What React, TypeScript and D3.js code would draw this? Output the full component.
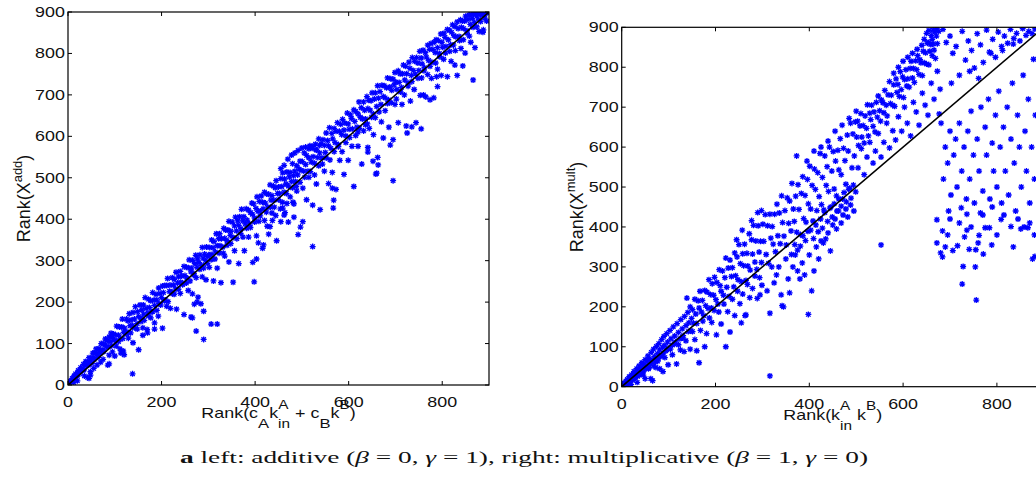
import React from "react";
import * as d3 from "d3";

// axis ticks shared by both panels
const xTicks = [0, 200, 400, 600, 800];
const yTicks = [0, 100, 200, 300, 400, 500, 600, 700, 800, 900];
const rankDomain = [0, 900];
const diagonal = [0, 900];

// left panel: Rank(c_A k_in^A + c_B k^B) vs Rank(X^add)
const additivePoints: [number, number][] = [
  // band 0-100
  [1,3],[3,3],[4,9],[6,9],[8,9],[9,16],[11,15],[13,22],[15,17],[16,27],[18,24],[20,21],[22,35],[24,32],[25,28],[27,42],[29,39],[31,36],[33,50],[34,36],[36,48],[38,57],[40,47],[42,56],[44,48],[45,66],[47,56],[49,65],[51,52],[53,77],[55,66],[56,62],[58,78],[60,87],[62,75],[64,67],[66,88],[67,84],[69,77],[71,100],[73,85],[75,100],[77,81],[79,97],[80,111],[82,92],[84,107],[86,92],[88,116],[90,105],[92,125],[93,95],[95,115],[97,123],[99,108],
  [12,6],[20,10],[35,22],[42,18],[45,16],[48,24],[48,32],[55,40],[62,48],[70,55],[75,62],[85,48],[88,51],[88,72],[95,80],[100,70],[113,77],[118,82],[138,27],
  // band 100-300
  [101,121],[103,107],[104,142],[108,120],[110,140],[112,111],[115,140],[116,159],[119,127],[121,137],[125,159],[126,128],[128,155],[131,172],[133,143],[135,157],[138,144],[139,175],[142,159],[144,189],[148,148],[149,177],[151,165],[154,193],[156,161],[158,181],[161,193],[162,171],[165,211],[167,185],[171,174],[172,207],[174,187],[177,203],[179,177],[181,223],[184,205],[185,192],[188,219],[190,205],[194,234],[195,196],[197,221],[200,211],[202,239],[204,223],[207,240],[208,205],[211,240],[213,257],[217,226],[218,241],[220,225],[223,259],[225,241],[227,255],[230,232],[231,272],[234,246],[236,261],[240,274],[241,248],[243,263],[246,245],[248,286],[250,264],[253,284],[254,258],[257,283],[259,302],[263,273],[264,282],[266,301],[269,269],[271,293],[273,313],[276,284],[277,304],[280,295],[282,314],[286,289],[287,332],[289,306],[292,316],[294,300],[296,333],[299,310],
  [103,94],[108,105],[111,87],[117,112],[120,73],[126,123],[129,113],[134,126],[139,102],[142,138],[148,135],[151,85],[156,153],[160,138],[163,156],[169,134],[172,167],[177,162],[181,177],[185,135],[190,180],[193,166],[198,193],[202,137],[206,203],[211,190],[214,201],[219,185],[224,220],[227,219],[232,183],[236,231],[240,221],[245,242],[248,170],[253,246],[257,228],[261,251],[266,220],[269,265],[274,259],[278,212],[282,279],[287,261],[290,282],[295,254],[298,293],
  [266,162],[270,195],[274,130],[290,110],[290,178],[306,147],[319,147],[263,164],[276,200],[284,196],[160,120],[170,126],[185,150],
  // band 300-500
  [301,314],[303,332],[306,315],[307,350],[310,331],[312,346],[315,321],[317,365],[319,336],[322,353],[324,365],[325,336],[328,353],[331,333],[333,378],[335,354],[337,374],[340,348],[342,374],[344,395],[347,361],[348,371],[351,393],[353,356],[356,384],[358,405],[360,372],[363,396],[365,385],[367,406],[370,377],[371,424],[374,396],[376,406],[379,389],[381,425],[383,398],[386,422],[388,389],[390,416],[393,439],[394,412],[397,437],[399,403],[402,426],[404,454],[406,419],[409,443],[411,420],[413,456],[416,441],[417,425],[420,465],[422,439],[425,461],[427,429],[429,460],[432,483],[434,446],[436,457],[439,480],[440,446],[443,476],[445,493],[448,462],[450,478],[452,462],[455,498],[457,479],[459,512],[462,465],[463,497],[466,485],[468,514],[471,480],[473,502],[475,513],[478,491],[480,534],[482,505],[485,516],[486,491],[489,529],[491,507],[494,521],[496,540],[498,518],
  [455,522],[462,530],[470,545],[478,555],[485,560],[492,566],[500,572],[508,574],[515,570],[522,576],[530,568],[538,578],
  [302,284],[306,302],[311,251],[314,304],[319,282],[323,318],[327,247],[332,318],[335,311],[340,337],[344,297],[348,341],[353,248],[356,324],[361,353],[365,293],[369,366],[374,357],[377,324],[382,378],[386,357],[390,380],[395,296],[399,393],[403,360],[408,395],[411,408],[416,330],[420,397],[424,417],[429,364],[433,429],[437,397],[441,429],[446,348],[450,447],[454,425],[458,441],[462,410],[467,462],[471,393],[475,454],[480,476],[483,437],[488,479],[492,363],[496,489],
  [398,249],[403,304],[407,343],[418,338],[432,382],[455,394],[464,416],[483,405],[497,381],[502,394],[523,334],[426,383],[444,409],[459,427],[481,441],[489,468],[436,415],[468,438],
  // band 500-700
  [501,539],[504,516],[505,560],[508,532],[510,554],[513,516],[515,548],[517,577],[520,538],[522,571],[524,551],[527,535],[529,581],[531,567],[534,549],[536,594],[538,560],[541,582],[543,548],[545,592],[548,578],[550,561],[552,608],[555,590],[557,577],[559,621],[562,571],[564,607],[566,594],[569,619],[571,585],[573,612],[576,633],[578,580],[580,612],[583,629],[585,604],[587,641],[590,615],[592,632],[594,601],[597,656],[599,630],[601,617],[604,652],[606,643],[608,618],[611,664],[613,636],[615,660],[618,622],[620,654],[622,683],[625,646],[627,669],[629,642],[632,683],[634,663],[636,642],[639,696],[641,667],[643,687],[646,663],[648,686],[650,705],[653,654],[655,690],[657,705],[660,672],[662,722],[664,692],[667,708],[669,677],[671,723],[674,696],[676,722],[678,693],[681,717],[683,741],[685,688],[688,719],[690,739],[692,711],[695,738],[697,724],[699,754],
  [502,475],[506,501],[510,447],[515,501],[518,515],[523,434],[527,507],[531,485],[536,529],[539,423],[544,533],[548,516],[552,548],[557,486],[560,543],[565,513],[569,563],[573,472],[578,575],[581,542],[586,563],[590,508],[594,585],[599,542],[602,597],[607,576],[611,479],[615,602],[620,576],[623,619],[628,533],[632,613],[636,628],[641,573],[644,619],[649,646],[653,604],[657,645],[662,549],[665,659],[670,635],[674,596],[678,662],[683,679],[686,622],[691,681],[695,592],[699,677],
  [565,475],[567,427],[568,446],[641,562],[652,540],[658,509],[660,511],[663,531],[689,579],[695,493],[620,610],[640,630],
  // band 700-900
  [701,731],[703,713],[706,758],[708,730],[710,751],[713,718],[715,751],[717,772],[720,736],[722,769],[724,751],[727,729],[729,779],[731,764],[734,747],[736,790],[738,759],[741,781],[743,750],[745,790],[748,777],[750,759],[752,805],[755,789],[757,775],[759,808],[762,766],[764,802],[766,791],[769,820],[771,783],[773,810],[776,824],[778,779],[780,810],[783,827],[785,802],[787,833],[790,814],[792,831],[794,800],[797,847],[799,827],[801,815],[804,849],[806,839],[808,817],[811,858],[813,833],[815,856],[818,821],[820,851],[822,869],[825,843],[827,865],[829,840],[832,876],[834,860],[836,841],[839,881],[841,863],[843,878],[846,860],[848,878],[850,890],[853,855],[855,882],[857,893],[860,870],[862,894],[864,884],[867,895],[869,875],[871,896],[874,890],[876,898],[878,882],[881,896],[883,895],[885,893],[888,898],[890,893],[892,898],[895,899],[897,899],[899,900],
  [702,690],[706,633],[711,707],[714,677],[719,700],[723,625],[727,721],[732,685],[735,732],[740,713],[744,633],[748,740],[753,699],[756,741],[761,758],[765,695],[769,749],[774,769],[777,740],[782,693],[786,777],[790,762],[795,792],[798,747],[803,786],[807,801],[811,744],[816,805],[819,781],[824,820],[828,807],[832,747],[837,831],[840,812],[845,833],[849,801],[853,849],[858,842],[861,827],[866,863],[870,814],[874,864],[879,853],[882,877],[887,851],[891,885],[895,878],
  [725,608],[735,623],[755,618],[774,688],[788,744],[827,772],[866,736],[888,857],[844,770],[760,700],[790,720],
];

// right panel: Rank(k_in^A k^B) vs Rank(X^mult)
const multiplicativePoints: [number, number][] = [
  // band 0-150
  [2,4],[4,1],[5,9],[7,6],[9,14],[11,7],[12,18],[14,11],[16,25],[17,14],[19,21],[21,30],[23,17],[25,27],[26,38],[28,22],[30,34],[32,45],[34,26],[36,41],[37,52],[39,33],[41,47],[43,60],[45,36],[47,55],[48,42],[50,68],[52,49],[54,62],[56,77],[57,45],[59,70],[61,58],[63,86],[65,66],[67,52],[68,94],[70,75],[72,62],[74,101],[76,83],[78,70],[79,108],[81,92],[83,76],[85,118],[87,99],[89,84],[90,126],[92,104],[94,90],[96,133],[98,112],[100,96],[103,141],[105,120],[108,104],[110,150],[113,127],[115,112],[118,158],[121,136],[124,120],[126,168],[129,145],[131,128],[134,176],[137,153],[139,222],[141,186],[143,160],[146,200],[149,171],[148,140],
  [6,3],[11,2],[15,13],[20,6],[24,19],[29,25],[33,11],[37,29],[42,39],[46,29],[50,20],[55,49],[58,47],[62,20],[66,15],[69,65],[73,48],[77,64],[81,45],[85,78],[88,38],[92,73],[96,93],[99,55],[104,94],[108,80],[112,107],[117,57],[121,105],[125,92],[130,122],[133,88],[137,115],[142,138],[146,94],[151,138],[156,118],[160,90],[165,60],[168,141],[173,164],[177,100],[181,133],[187,172],[192,161],[197,191],[202,130],[207,187],[212,157],[218,207],[222,100],[226,188],[231,137],[236,219],[241,178],[247,239],[252,208],[258,232],[263,178],[268,256],[273,223],[279,246],[284,277],[289,221],[294,273],[299,254],
  // band 150-300
  [151,193],[153,159],[156,219],[158,182],[160,158],[163,215],[165,197],[167,239],[170,187],[172,216],[175,178],[177,241],[179,203],[182,237],[184,196],[186,268],[189,231],[191,197],[193,258],[196,229],[198,274],[201,218],[203,261],[205,207],[208,293],[210,253],[212,239],[215,290],[217,229],[220,273],[222,322],[224,249],[227,297],[229,226],[231,317],[234,276],[236,298],[239,250],[241,335],[243,278],[246,325],[248,268],[250,356],[253,308],[255,263],[258,333],[260,303],[262,357],[265,266],[267,334],[269,302],[272,383],[274,292],[277,368],[279,332],[281,404],[284,312],[286,365],[288,294],[291,403],[293,337],[296,364],[298,311],
  [245,368],[257,392],[277,416],[290,436],[298,441],
  [255,160],[265,180],[295,230],[310,240],[316,184],[316,27],[320,300],[325,260],[342,203],
  // band 300-500
  [301,407],[303,364],[306,431],[308,331],[311,403],[313,309],[316,432],[318,372],[321,401],[323,357],[326,432],[328,338],[331,457],[333,378],[336,435],[338,358],[341,478],[343,411],[346,377],[348,441],[351,355],[353,473],[356,409],[358,465],[361,390],[363,509],[366,445],[368,414],[371,477],[373,387],[376,506],[378,444],[381,381],[383,484],[386,526],[388,421],[391,479],[393,412],[396,519],[398,458],[401,552],[403,445],[406,504],[408,415],[411,545],[413,494],[416,441],[418,536],[421,476],[423,584],[426,456],[428,524],[431,443],[433,578],[436,504],[438,551],[441,489],[443,600],[446,450],[448,540],[451,589],[453,495],[456,565],[458,478],[461,592],[463,543],[466,621],[468,531],[471,470],[473,597],[476,566],[478,507],[481,630],[483,590],[486,497],[488,660],[491,548],[493,633],[496,578],[498,663],
  [373,578],[395,565],[410,590],[425,600],[440,615],[455,640],[470,655],[485,672],[500,690],
  [403,392],[409,371],[414,405],[419,388],[424,420],[428,397],[433,436],[439,414],[444,447],[449,425],[453,458],[459,440],[463,470],[468,452],[474,486],[479,463],[484,494],[489,472],[494,505],[499,488],[381,352],[386,378],[392,366],[397,389],[362,331],[369,356],[375,342],
  [330,280],[335,300],[340,230],[345,200],[350,320],[355,270],[358,235],[365,300],[370,330],[375,290],[380,270],[385,310],[390,280],[398,181],[400,330],[405,240],[410,290],[415,350],[420,320],[425,365],[430,360],[435,370],[440,385],[445,340],[450,405],[455,420],[458,395],[462,440],[468,410],[472,430],[478,445],[482,425],[488,455],[495,440],
  // band 500-680
  [501,625],[503,665],[505,604],[508,653],[510,684],[512,625],[515,654],[517,610],[519,678],[522,647],[524,706],[526,628],[529,685],[531,669],[533,705],[536,652],[538,688],[540,638],[543,712],[545,675],[547,728],[550,691],[552,665],[554,718],[557,711],[559,686],[561,742],[564,705],[566,678],[568,731],[571,764],[573,709],[575,730],[578,705],[580,756],[582,702],[585,771],[587,737],[589,757],[592,727],[594,789],[596,744],[599,776],[601,724],[603,769],[606,794],[608,753],[610,771],[613,750],[615,797],[617,815],[620,773],[622,797],[624,762],[627,816],[629,794],[631,829],[634,782],[636,819],[638,811],[641,779],[643,840],[645,811],[648,836],[650,808],[652,860],[655,806],[657,840],[659,857],[662,829],[664,858],[666,843],[669,822],[671,878],[673,859],
  [580,785],[590,800],[600,815],[610,825],[620,835],[630,845],[640,855],[645,870],[650,885],[654,862],[655,892],[660,880],[662,870],[664,893],[668,888],[672,896],[676,890],
  [504,548],[511,596],[517,531],[523,575],[529,612],[536,560],[541,590],[547,634],[553,575],[559,612],[565,660],[571,598],[578,641],[584,618],[590,676],[597,640],[603,700],[609,660],[616,628],[622,712],[628,688],[634,655],[641,735],[647,705],[653,680],[660,760],[666,720],[673,790],[679,745],
  [553,355],[672,418],[672,360],[677,683],[681,660],
  // right part, above the diagonal
  [685,895],[692,862],[700,878],[706,835],[713,852],[720,780],[726,890],[733,818],[739,866],[746,842],[752,798],[758,884],[765,856],[771,812],[778,893],[784,838],[791,870],[797,825],[803,888],[810,852],[816,878],[823,860],[829,895],[836,872],[842,885],[849,866],[855,897],[862,880],[868,890],[875,884],[881,896],[703,760],[742,790],[761,772],[787,835],[812,842],[835,858],
  // right part, below the diagonal
  [684,390],[690,350],[680,335],[684,325],[697,440],[706,341],[716,353],[724,448],[726,257],[728,301],[731,375],[736,392],[736,432],[741,344],[754,300],[755,343],[756,217],[762,379],[765,435],[771,332],[775,398],[784,398],[789,355],[809,419],[830,401],[851,395],[858,400],[866,398],[880,380],[881,326],[876,320],
  [686,520],[690,600],[695,560],[700,640],[702,480],[708,580],[712,620],[715,500],[720,660],[725,540],[730,600],[735,470],[738,640],[742,520],[745,690],[750,580],[752,460],[758,620],[762,540],[766,700],[770,490],[775,650],[778,580],[782,720],[785,470],[790,610],[793,540],[797,680],[800,500],[804,740],[807,600],[810,460],[814,650],[818,540],[822,700],[825,480],[830,620],[833,760],[837,560],[840,440],[844,680],[848,600],[852,500],[856,780],[860,640],[863,540],[867,720],[870,460],[874,600],[878,820],[882,680],[880,520],
  [700,420],[720,410],[745,400],[770,430],[790,450],[815,430],[845,420],[870,410],[695,380],[760,360],[800,380],[835,350],
];

const SANS = '"Liberation Sans", Arial, Helvetica, sans-serif';
const SERIF = '"Liberation Serif", "Times New Roman", serif';
const STAR = "M-3,0H3M0,-3V3M-2.2,-2.2L2.2,2.2M-2.2,2.2L2.2,-2.2";
const STRETCH = 1.28; // horizontal text in the figure is wider than tall

type PanelProps = {
  id: string;
  points: [number, number][];
  left: number;
  right: number;
  top: number;
  bottom: number;
  xLabel: React.ReactNode;
  yLabel: React.ReactNode;
  yLabelX: number;
};

function Panel({ id, points, left, right, top, bottom, xLabel, yLabel, yLabelX }: PanelProps) {
  const x = d3.scaleLinear().domain(rankDomain).range([left, right]);
  const y = d3.scaleLinear().domain(rankDomain).range([bottom, top]);
  const line = d3.line<number>().x((d) => x(d)).y((d) => y(d));
  const tick = 4;

  return (
    <g>
      <defs>
        <clipPath id={id}>
          <rect x={left} y={top} width={right - left} height={bottom - top} />
        </clipPath>
      </defs>
      <g clipPath={`url(#${id})`}>
        {points.map(([a, b], i) => (
          <path
            key={i}
            d={STAR}
            transform={`translate(${x(a)},${y(b)})`}
            stroke="#0000ff"
            strokeWidth={1.3}
            fill="none"
          />
        ))}
        <path d={line(diagonal) ?? ""} stroke="#000" strokeWidth={1.6} fill="none" />
      </g>

      {/* box and inward ticks */}
      <rect x={left} y={top} width={right - left} height={bottom - top} fill="none" stroke="#000" strokeWidth={1.2} />
      {xTicks.map((t) => (
        <g key={"xt" + t}>
          <line x1={x(t)} x2={x(t)} y1={bottom} y2={bottom - tick} stroke="#000" />
          <line x1={x(t)} x2={x(t)} y1={top} y2={top + tick} stroke="#000" />
          <g transform={`translate(${x(t)},${bottom + 22}) scale(${STRETCH},1)`}>
            <text textAnchor="middle" fontSize={14} fontFamily={SANS} fill="#111">
              {t}
            </text>
          </g>
        </g>
      ))}
      {yTicks.map((t) => (
        <g key={"yt" + t}>
          <line x1={left} x2={left + tick} y1={y(t)} y2={y(t)} stroke="#000" />
          <line x1={right} x2={right - tick} y1={y(t)} y2={y(t)} stroke="#000" />
          <g transform={`translate(${left - 3},${y(t)}) scale(${STRETCH},1)`}>
            <text textAnchor="end" dy="0.36em" fontSize={14} fontFamily={SANS} fill="#111">
              {t}
            </text>
          </g>
        </g>
      ))}

      <g transform={`translate(${(left + right) / 2},${bottom + 33}) scale(${STRETCH},1)`}>
        <text textAnchor="middle" fontSize={14} fontFamily={SANS} fill="#111">
          {xLabel}
        </text>
      </g>
      <g transform={`translate(${yLabelX},${(top + bottom) / 2}) rotate(-90)`}>
        <text textAnchor="middle" fontSize={18} fontFamily={SANS} fill="#111">
          {yLabel}
        </text>
      </g>
    </g>
  );
}

export default function App() {
  return (
    <svg
      width={1036}
      height={481}
      style={{ position: "absolute", left: 0, top: 0, background: "#fff" }}
    >
      <rect width={1036} height={481} fill="#fff" />
      <Panel
        id="clipAdd"
        points={additivePoints}
        left={68}
        right={489}
        top={12}
        bottom={385}
        yLabelX={30}
        yLabel={
          <>
            Rank(X<tspan dy={-8} fontSize={13}>add</tspan>
            <tspan dy={8}>)</tspan>
          </>
        }
        xLabel={
          <>
            Rank(c<tspan dy={10} fontSize={13}>A</tspan>
            <tspan dy={-10}>k</tspan>
            <tspan dy={10} fontSize={12}>in</tspan>
            <tspan dx={-9.3} dy={-19.5} fontSize={12}>A</tspan>
            <tspan dx={1.3} dy={9.5}> + c</tspan>
            <tspan dy={10} fontSize={13}>B</tspan>
            <tspan dy={-10}>k</tspan>
            <tspan dy={-9.5} fontSize={12}>B</tspan>
            <tspan dy={9.5}>)</tspan>
          </>
        }
      />
      <Panel
        id="clipMult"
        points={multiplicativePoints}
        left={621.7}
        right={1043.8}
        top={27.3}
        bottom={386.7}
        yLabelX={583}
        yLabel={
          <>
            Rank(X<tspan dy={-8} fontSize={13}>mult</tspan>
            <tspan dy={8}>)</tspan>
          </>
        }
        xLabel={
          <>
            Rank(k<tspan dy={10} fontSize={12}>in</tspan>
            <tspan dx={-9.3} dy={-19.5} fontSize={12}>A</tspan>
            <tspan dx={1.3} dy={9.5}> k</tspan>
            <tspan dy={-9.5} fontSize={12}>B</tspan>
            <tspan dy={9.5}>)</tspan>
          </>
        }
      />
      <text
        x={180}
        y={463}
        fontSize={17}
        fontFamily={SERIF}
        fill="#111"
        textLength={688}
        lengthAdjust="spacingAndGlyphs"
      >
        <tspan fontWeight="bold">a</tspan> left: additive (<tspan fontStyle="italic">β</tspan> = 0,{" "}
        <tspan fontStyle="italic">γ</tspan> = 1), right: multiplicative (<tspan fontStyle="italic">β</tspan> = 1,{" "}
        <tspan fontStyle="italic">γ</tspan> = 0)
      </text>
    </svg>
  );
}
